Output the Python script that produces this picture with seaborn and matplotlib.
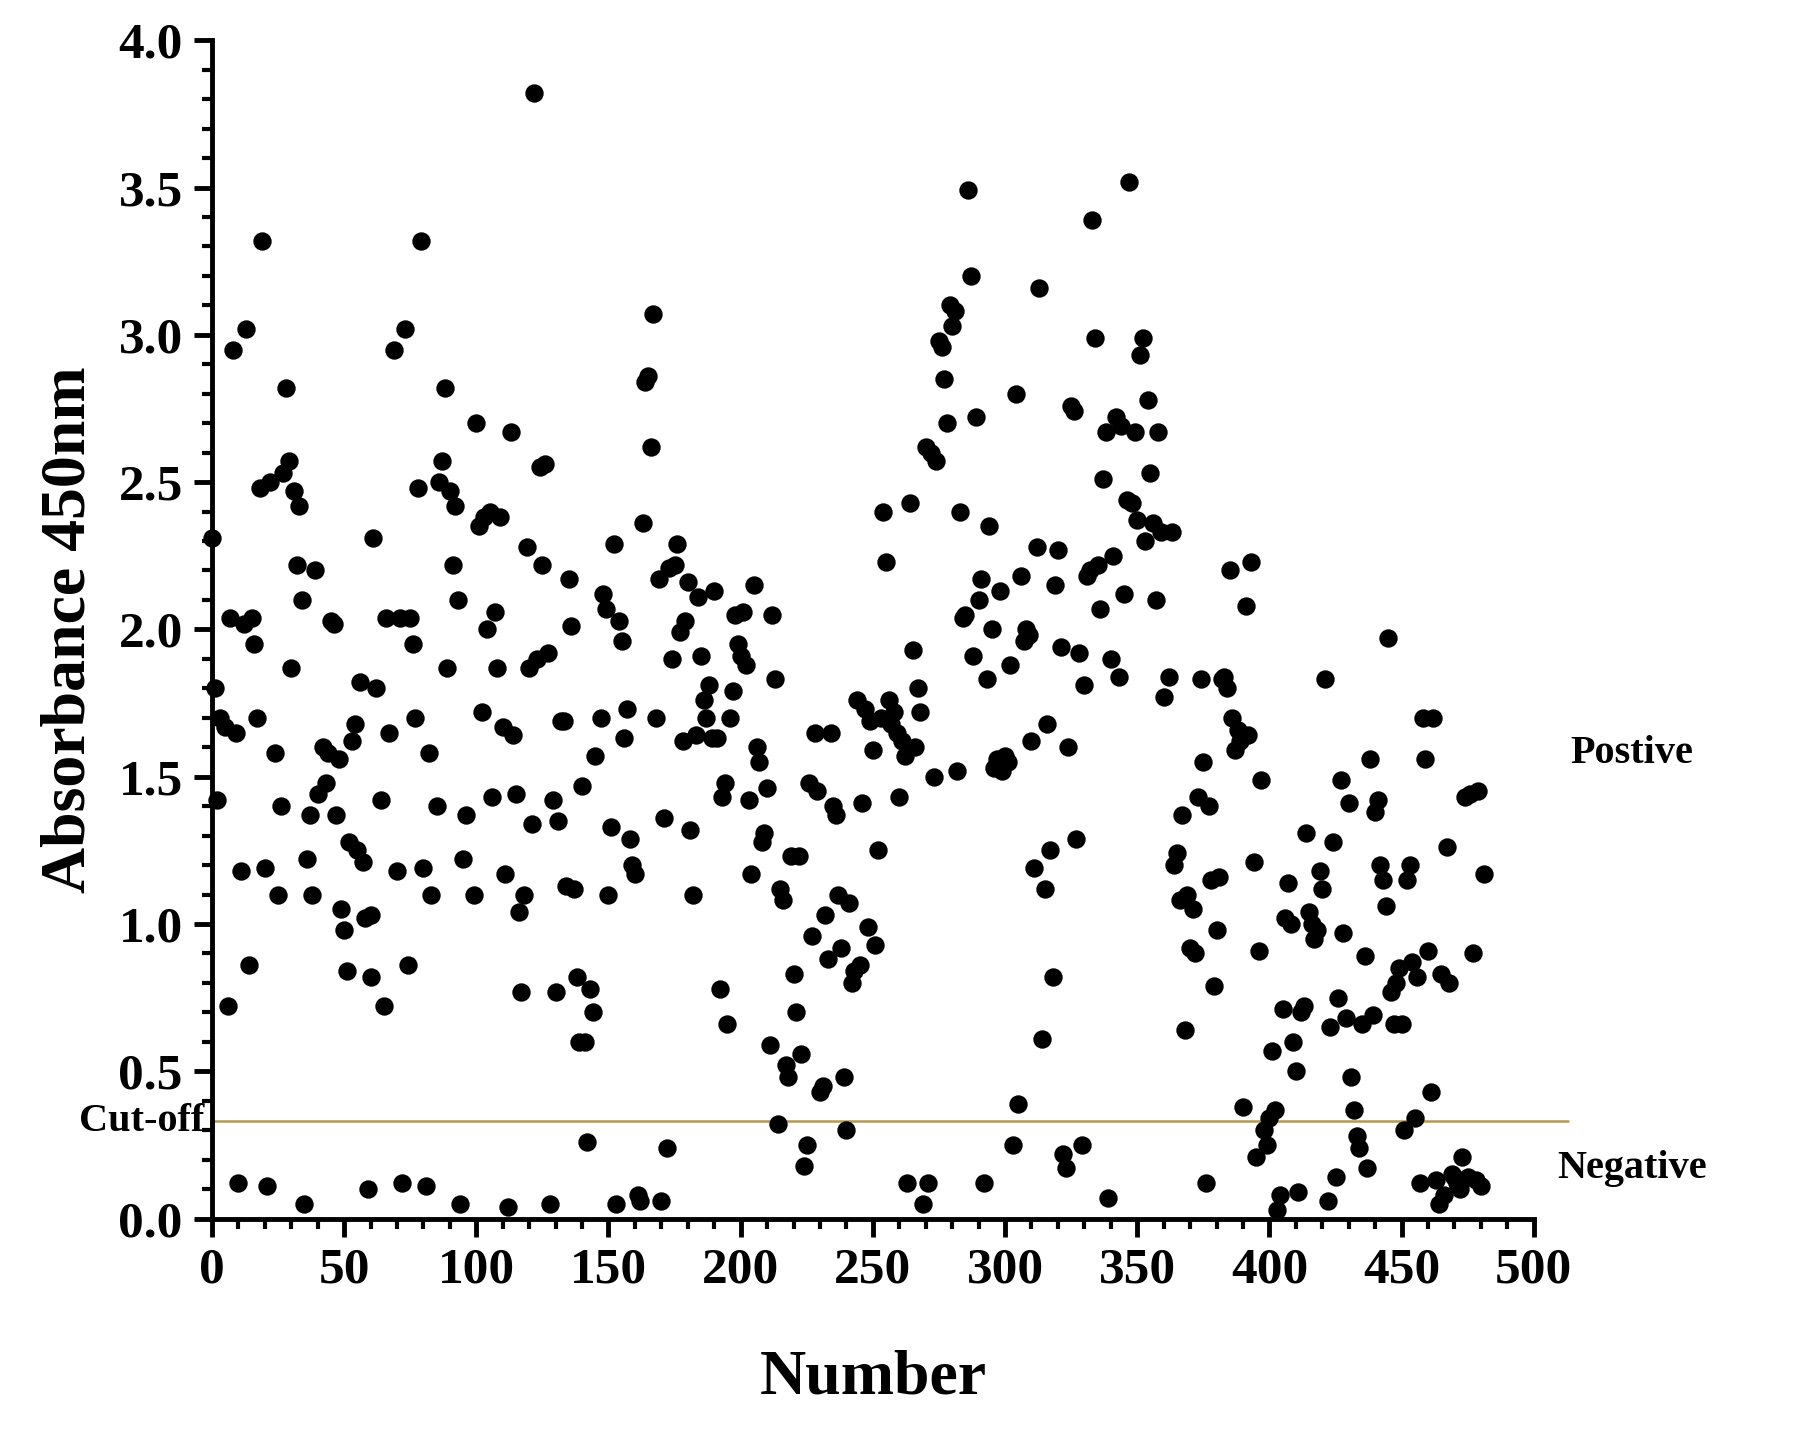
import numpy as np
import pandas as pd
import matplotlib
matplotlib.use("Agg")
import matplotlib.pyplot as plt
import seaborn as sns
from matplotlib.ticker import MultipleLocator

number = [0,1,2,3,5,6,7,8,9,10,11,12,13,14,15,16,17,18,19,20,21,22,24,25,26,27,28,29,30,31,32,33,34,35,36,37,38,39,40,42,43,44,45,46,47,48,49,50,51,52,53,54,55,56,57,58,59,60,
 60,61,62,64,65,66,67,69,70,71,72,73,74,75,76,77,78,79,80,81,82,83,85,86,87,88,89,90,91,92,93,94,95,96,
 99,100,101,102,103,104,105,106,107,108,109,110,111,112,113,114,115,116,117,118,119,120,121,122,123,124,125,126,127,128,129,130,131,132,133,134,135,136,137,138,139,140,141,142,143,144,145,147,148,149,150,151,152,153,154,155,156,157,158,159,160,161,162,163,164,165,166,167,168,169,170,171,172,173,174,175,176,177,178,179,180,181,182,183,184,185,186,187,188,189,190,191,192,193,194,195,196,197,198,199,200,201,202,203,204,205,206,207,208,209,210,211,212,213,214,215,216,217,218,219,220,221,222,223,224,225,226,227,228,229,230,231,232,233,234,235,236,237,238,239,240,241,242,243,244,245,246,247,248,249,250,251,252,253,254,255,256,257,258,259,260,261,262,263,264,265,266,267,268,269,270,271,272,273,274,275,276,277,278,279,280,281,282,283,284,285,286,287,288,289,290,291,292,293,294,295,296,297,298,299,300,301,302,303,304,305,306,307,308,309,310,311,312,313,314,315,316,317,318,319,320,321,322,323,324,325,326,327,328,329,330,331,332,333,334,335,336,337,338,339,340,341,342,343,344,345,346,347,348,349,350,351,352,353,354,355,356,357,358,359,360,362,363,364,365,366,367,368,369,370,371,372,373,374,375,376,377,378,379,380,381,382,383,384,385,386,387,388,389,390,391,392,393,394,395,396,397,398,399,400,401,402,403,404,405,406,407,408,409,410,411,412,413,414,415,416,417,418,419,420,421,422,423,424,425,426,427,428,429,430,431,432,433,434,435,436,437,438,439,440,441,442,443,444,445,446,447,448,449,450,451,452,453,454,455,456,457,458,459,460,461,462,463,464,465,466,467,468,469,470,471,472,473,474,475,476,477,478,479,480,481]
absorbance = [2.31,1.80,1.42,1.70,1.67,0.72,2.04,2.95,1.65,0.12,1.18,2.02,3.02,0.86,2.04,1.95,1.70,2.48,3.32,1.19,0.11,2.50,1.58,1.10,1.40,2.53,2.82,2.57,1.87,2.47,2.22,2.42,2.10,0.05,1.22,1.37,1.10,2.20,1.44,1.60,1.48,1.58,2.03,2.02,1.37,1.56,1.05,0.98,0.84,1.28,1.62,1.68,1.25,1.82,1.21,1.02,0.10,0.82,
 1.03,2.31,1.80,1.42,0.72,2.04,1.65,2.95,1.18,2.04,0.12,3.02,0.86,2.04,1.95,1.70,2.48,3.32,1.19,0.11,1.58,1.10,1.40,2.50,2.57,2.82,1.87,2.47,2.22,2.42,2.10,0.05,1.22,1.37,1.10,
 2.70,2.35,1.72,2.38,2.00,2.40,1.43,2.06,1.87,2.38,1.67,1.17,0.04,2.67,1.64,1.44,1.04,0.77,1.10,2.28,1.87,1.34,3.82,1.90,2.55,2.22,2.56,1.92,0.05,1.42,0.77,1.35,1.69,1.69,1.13,2.17,2.01,1.12,0.82,0.60,1.47,0.60,0.26,0.78,0.70,1.57,1.70,2.12,2.07,1.10,1.33,2.29,0.05,2.03,1.96,1.63,1.73,1.29,1.20,1.17,0.08,0.06,2.36,2.84,2.86,2.62,3.07,1.70,2.17,0.06,1.36,0.24,2.21,1.90,2.22,2.29,1.99,1.62,2.03,2.16,1.32,1.10,1.64,2.11,1.91,1.76,1.70,1.81,1.63,2.13,1.63,0.78,1.43,1.48,0.66,1.70,1.79,2.05,1.95,1.91,2.06,1.88,1.42,1.17,2.15,1.60,1.55,1.28,1.31,1.46,0.59,2.05,1.83,0.32,1.12,1.08,0.52,0.48,1.23,0.83,0.70,1.23,0.56,0.18,0.25,1.48,0.96,1.65,1.45,0.43,0.45,1.03,0.88,1.65,1.40,1.37,1.10,0.92,0.48,0.30,1.07,0.80,0.84,1.76,0.86,1.41,1.73,0.99,1.69,1.59,0.93,1.25,1.70,2.40,2.23,1.76,1.68,1.72,1.65,1.43,1.62,1.57,0.12,2.43,1.93,1.60,1.80,1.72,0.05,2.62,0.12,2.60,1.50,2.57,2.98,2.96,2.85,2.70,3.10,3.03,3.08,1.52,2.40,2.04,2.05,3.49,3.20,1.91,2.72,2.10,2.17,0.12,1.83,2.35,2.00,1.53,1.56,2.13,1.52,1.57,1.55,1.88,0.25,2.80,0.39,2.18,1.96,2.00,1.98,1.62,1.19,2.28,3.16,0.61,1.12,1.68,1.25,0.82,2.15,2.27,1.94,0.22,0.17,1.60,2.76,2.74,1.29,1.92,0.25,1.81,2.18,2.20,3.39,2.99,2.22,2.07,2.51,2.67,0.07,1.90,2.25,2.72,1.84,2.69,2.12,2.44,3.52,2.43,2.67,2.37,2.93,2.99,2.30,2.78,2.53,2.36,2.10,2.67,2.33,1.77,1.84,2.33,1.20,1.24,1.08,1.37,0.64,1.10,0.92,1.05,0.90,1.43,1.83,1.55,0.12,1.40,1.15,0.79,0.98,1.16,1.83,1.84,1.80,2.20,1.70,1.59,1.66,1.62,0.38,2.08,1.64,2.23,1.21,0.21,0.91,1.49,0.30,0.25,0.34,0.57,0.37,0.03,0.08,0.71,1.02,1.14,1.00,0.60,0.50,0.09,0.70,0.72,1.31,1.04,1.00,0.95,0.98,1.18,1.12,1.83,0.06,0.65,1.28,0.14,0.75,1.49,0.97,0.68,1.41,0.48,0.37,0.28,0.24,0.66,0.89,0.17,1.56,0.69,1.38,1.42,1.20,1.15,1.06,1.97,0.77,0.66,0.80,0.85,0.66,0.30,1.15,1.20,0.87,0.34,0.82,0.12,1.70,1.56,0.91,0.43,1.70,0.13,0.05,0.83,0.08,1.26,0.80,0.15,0.14,0.12,0.10,0.21,1.43,0.14,1.44,0.90,0.13,1.45,0.11,1.17,1.47]
n = min(len(number), len(absorbance))
df = pd.DataFrame({"Number": number[:n], "Absorbance": absorbance[:n]})
cutoff = 0.33

sns.set_style("ticks")
plt.rcParams['font.family'] = ['Liberation Serif', 'DejaVu Serif']
plt.rcParams['font.weight'] = 'bold'
plt.rcParams['text.color'] = 'black'
plt.rcParams['axes.labelcolor'] = 'black'
plt.rcParams['xtick.color'] = 'black'
plt.rcParams['ytick.color'] = 'black'
plt.rcParams['axes.edgecolor'] = 'black'

fig = plt.figure(figsize=(17.96, 14.37), dpi=100)
ax = fig.add_axes([0.118, 0.152, 0.736, 0.82])
sns.scatterplot(data=df, x="Number", y="Absorbance", color="black", s=175, edgecolor="black", linewidth=0, ax=ax, clip_on=False, zorder=3)
ax.plot([0, 513], [cutoff, cutoff], color="#b09a5a", lw=1.8, clip_on=False, zorder=2)
ax.set_xlim(0, 500)
ax.set_ylim(0, 4.0)
ax.xaxis.set_major_locator(MultipleLocator(50))
ax.xaxis.set_minor_locator(MultipleLocator(10))
ax.yaxis.set_major_locator(MultipleLocator(0.5))
ax.yaxis.set_minor_locator(MultipleLocator(0.1))
ax.yaxis.set_major_formatter(matplotlib.ticker.FormatStrFormatter('%.1f'))
for s in ['top', 'right']:
    ax.spines[s].set_visible(False)
for s in ['left', 'bottom']:
    ax.spines[s].set_linewidth(3.5)
ax.tick_params(which='major', length=13, width=3.5, direction='out', labelsize=37, pad=8)
ax.tick_params(which='minor', length=7, width=3, direction='out')
for lab in ax.get_xticklabels() + ax.get_yticklabels():
    lab.set_fontweight('bold')
ax.set_xlabel("Number", fontsize=46, fontweight='bold', labelpad=40)
ax.set_ylabel("Absorbance 450nm", fontsize=46, fontweight='bold', labelpad=14)
ax.text(-3, cutoff, "Cut-off", ha='right', va='center', fontsize=29, fontweight='bold', clip_on=False)
ax.text(537, 1.58, "Postive", ha='center', va='center', fontsize=29, fontweight='bold', clip_on=False)
ax.text(537, 0.17, "Negative", ha='center', va='center', fontsize=29, fontweight='bold', clip_on=False)
fig.savefig("out.png", dpi=100)
